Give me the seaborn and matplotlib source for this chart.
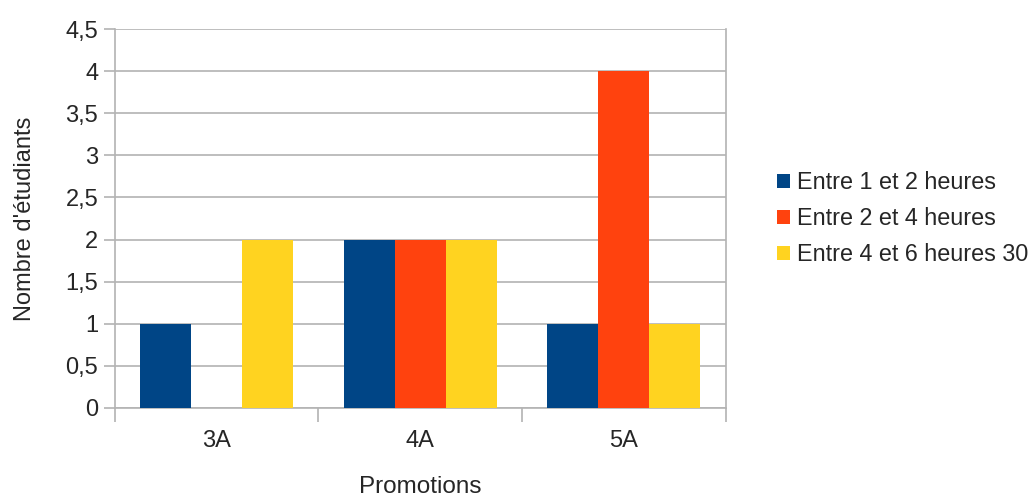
import matplotlib
matplotlib.use("Agg")
import matplotlib.pyplot as plt
import seaborn as sns
import pandas as pd
from matplotlib.ticker import FuncFormatter, MultipleLocator, FixedLocator

categories = ["3A", "4A", "5A"]
series_names = ["Entre 1 et 2 heures", "Entre 2 et 4 heures", "Entre 4 et 6 heures 30"]
vals_1_2 = [1, 2, 1]
vals_2_4 = [0, 2, 4]
vals_4_6 = [2, 2, 1]
colors = ["#004586", "#ff420e", "#ffd320"]

rows = []
for name, vals in zip(series_names, [vals_1_2, vals_2_4, vals_4_6]):
    for c, v in zip(categories, vals):
        rows.append({"Promotions": c, "Série": name, "Valeur": v})
df = pd.DataFrame(rows)

sns.set_style("white")
plt.rcParams['font.family'] = ['Liberation Sans', 'DejaVu Sans']

fig = plt.figure(figsize=(10.35, 5.0), dpi=100)
ax = fig.add_axes([0.111, 0.184, 0.590, 0.758])

sns.barplot(data=df, x="Promotions", y="Valeur", hue="Série", palette=colors,
            width=0.75, gap=0, saturation=1, ax=ax, legend=True, zorder=3,
            linewidth=0, edgecolor="none")

ax.set_ylim(0, 4.5)
ax.set_xlim(-0.5, 2.5)
ax.yaxis.set_major_locator(MultipleLocator(0.5))
ax.yaxis.set_major_formatter(FuncFormatter(lambda v, p: (f"{v:g}").replace(".", ",")))
ax.grid(axis="y", color="#b3b3b3", linewidth=1.2, zorder=0)
ax.set_axisbelow(True)

gray = "#b3b3b3"
for s in ["left", "bottom", "right"]:
    ax.spines[s].set_color(gray)
    ax.spines[s].set_linewidth(1.2)
ax.spines["top"].set_visible(False)

ax.set_xticks([0, 1, 2])
ax.set_xticklabels(categories)
ax.xaxis.set_minor_locator(FixedLocator([-0.5, 0.5, 1.5, 2.5]))
ax.tick_params(axis="x", which="major", length=0, pad=16, labelsize=17)
ax.tick_params(axis="x", which="minor", length=10, width=1.2, color=gray, direction="out", bottom=True)
ax.tick_params(axis="y", length=8, width=1.2, color=gray, direction="out", left=True, labelsize=17, pad=4)

ax.set_xlabel("Promotions", fontsize=17.5, labelpad=17)
ax.set_ylabel("Nombre d'étudiants", fontsize=17, labelpad=21)

leg = ax.legend(loc="center left", bbox_to_anchor=(1.05, 0.5), frameon=False,
                fontsize=16.8, handlelength=0.55, handleheight=0.55, handletextpad=0.3,
                labelspacing=0.55, title=None)

fig.savefig("out.png", dpi=100)
